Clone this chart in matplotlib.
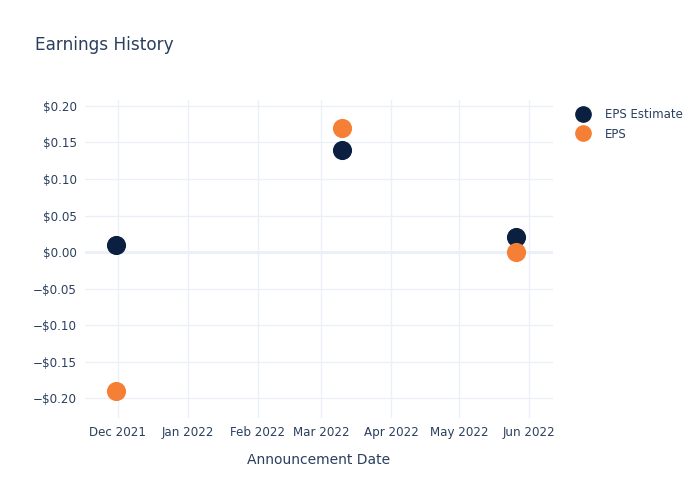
import matplotlib
matplotlib.use("Agg")
import matplotlib.pyplot as plt
import matplotlib.dates as mdates
from matplotlib.ticker import FuncFormatter
from matplotlib.lines import Line2D
import numpy as np

dates = np.array(["2021-11-30", "2022-03-10", "2022-05-26"], dtype="datetime64[D]")
eps_estimate = [0.01, 0.14, 0.02]
eps_actual = [-0.19, 0.17, 0.0]

NAVY = "#0b1f41"
ORANGE = "#f58035"
TXT = "#2a3f5f"
GRID = "#ebf0f8"

plt.rcParams["font.family"] = "DejaVu Sans"

fig = plt.figure(figsize=(7, 5), dpi=100)
ax = fig.add_axes([0.1214, 0.164, 0.6686, 0.636])

ax.scatter(dates, eps_estimate, s=190, color=NAVY, zorder=3, linewidths=0)
ax.scatter(dates, eps_actual, s=190, color=ORANGE, zorder=3, linewidths=0)

ax.set_ylim(-0.227, 0.208)
ax.set_xlim(np.datetime64("2021-11-16T12"), np.datetime64("2022-06-11T12"))
ax.set_yticks(np.arange(-0.20, 0.201, 0.05))


def money(v, _):
    v = round(v, 2)
    if abs(v) < 1e-9:
        return "$0.00"
    if v < 0:
        return "\u2212$%.2f" % abs(v)
    return "$%.2f" % v


ax.yaxis.set_major_formatter(FuncFormatter(money))
ax.xaxis.set_major_locator(mdates.MonthLocator())
ax.xaxis.set_major_formatter(mdates.DateFormatter("%b %Y"))

ax.grid(True, color=GRID, lw=1, zorder=0)
ax.axhline(0, color=GRID, lw=2, zorder=1)
for s in ax.spines.values():
    s.set_visible(False)
ax.tick_params(length=0, labelsize=8.6, colors=TXT, pad=6)
ax.set_xlabel("Announcement Date", fontsize=10, color=TXT, labelpad=10)

fig.text(0.05, 0.9, "Earnings History", fontsize=12.2, color=TXT)

handles = [
    Line2D([], [], marker="o", ls="", color=NAVY, markersize=11),
    Line2D([], [], marker="o", ls="", color=ORANGE, markersize=11),
]
leg = fig.legend(handles, ["EPS Estimate", "EPS"], loc="upper left",
                 bbox_to_anchor=(0.808, 0.805), frameon=False, fontsize=8.5,
                 handletextpad=1.2, labelspacing=0.55, handlelength=1.2)
for t in leg.get_texts():
    t.set_color(TXT)

fig.savefig("out.png", dpi=100)
